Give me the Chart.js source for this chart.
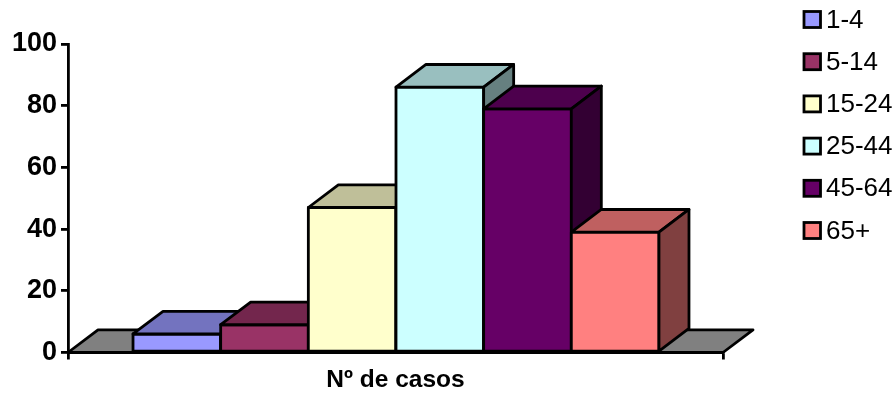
<!DOCTYPE html>
<html>
<head>
<meta charset="utf-8">
<style>
  html, body { margin: 0; padding: 0; background: #fff; }
  #wrap { width: 895px; height: 393px; }
</style>
<script src="https://cdn.jsdelivr.net/npm/chart.js@4"></script>
</head>
<body>
<div id="wrap"><canvas id="c" width="895" height="393"></canvas></div>
<script>
const categories = ['Nº de casos'];
const ageGroups = ['1-4', '5-14', '15-24', '25-44', '45-64', '65+'];
const cases = [6, 9, 47, 86, 79, 39];
const frontColors = ['#9999FF', '#993366', '#FFFFCC', '#CCFFFF', '#660066', '#FF8080'];
const topColors = ['#7373BF', '#73264D', '#BFBF99', '#99BFBF', '#4D004D', '#BF6060'];
const sideColors = ['#4D4D80', '#4D1A33', '#808066', '#668080', '#330033', '#804040'];
const yTicks = [0, 20, 40, 60, 80, 100];

const DEPTH_X = 30;
const DEPTH_Y = -22.7;
const LINE = 2.8;
const FONT = '"Liberation Sans", Arial, sans-serif';

function poly(ctx, pts, fill) {
  ctx.beginPath();
  pts.forEach((p, i) => (i ? ctx.lineTo(p[0], p[1]) : ctx.moveTo(p[0], p[1])));
  ctx.closePath();
  ctx.fillStyle = fill;
  ctx.fill();
  ctx.stroke();
}

// Extrudes the columns: gray floor first, then each column left to right.
const extrude = {
  id: 'extrude',
  beforeDatasetDraw() { return false; },
  afterDatasetsDraw(chart) {
    const { ctx, chartArea: a } = chart;
    ctx.save();
    ctx.strokeStyle = '#000';
    ctx.lineWidth = LINE;
    ctx.lineJoin = 'round';
    poly(ctx, [[a.left, a.bottom], [a.left + DEPTH_X, a.bottom + DEPTH_Y],
               [a.right + DEPTH_X, a.bottom + DEPTH_Y], [a.right, a.bottom]], '#808080');
    chart.data.datasets.forEach((ds, i) => {
      const bar = chart.getDatasetMeta(i).data[0];
      const hw = bar.width / 2;
      const l = bar.x - hw + 0.5, r = bar.x + hw + 0.5, t = bar.y, b = bar.base;
      ctx.fillStyle = frontColors[i];
      ctx.fillRect(l, t, r - l, b - t);
      ctx.strokeRect(l, t, r - l, b - t);
      poly(ctx, [[l, t], [l + DEPTH_X, t + DEPTH_Y], [r + DEPTH_X, t + DEPTH_Y], [r, t]], topColors[i]);
      poly(ctx, [[r, t], [r + DEPTH_X, t + DEPTH_Y], [r + DEPTH_X, b + DEPTH_Y], [r, b]], sideColors[i]);
    });
    ctx.restore();
  }
};

// Right-hand key: small square swatch followed by its age group.
const ageKey = {
  id: 'ageKey',
  afterDraw(chart) {
    const { ctx } = chart;
    ctx.save();
    ctx.font = '26px ' + FONT;
    ctx.textAlign = 'left';
    ctx.textBaseline = 'middle';
    ageGroups.forEach((name, i) => {
      const cy = 19.5 + i * 42.2;
      ctx.fillStyle = frontColors[i];
      ctx.fillRect(804, cy - 8, 16.5, 16);
      ctx.strokeStyle = '#000';
      ctx.lineWidth = LINE;
      ctx.strokeRect(804, cy - 8, 16.5, 16);
      ctx.fillStyle = '#000';
      ctx.fillText(name, 826, cy + 1);
    });
    ctx.restore();
  }
};

new Chart(document.getElementById('c'), {
  type: 'bar',
  data: {
    labels: categories,
    datasets: ageGroups.map((name, i) => ({
      label: name,
      data: [cases[i]],
      backgroundColor: frontColors[i],
      borderWidth: 0,
      categoryPercentage: 0.803,
      barPercentage: 1
    }))
  },
  options: {
    responsive: false,
    animation: false,
    layout: { padding: { top: 44, right: 172, bottom: 0, left: 0 } },
    plugins: { legend: { display: false }, title: { display: false }, tooltip: { enabled: false } },
    scales: {
      x: {
        afterFit(scale) { scale.height = 40.5; },
        border: { display: true, color: '#000', width: LINE },
        grid: { display: true, drawOnChartArea: false, color: '#000', lineWidth: LINE, tickLength: 7 },
        ticks: { color: '#000', padding: 6.5, font: { family: FONT, size: 24.5, weight: 'bold' }, maxRotation: 0 }
      },
      y: {
        min: 0,
        max: 100,
        afterFit(scale) { scale.width = 68; },
        afterBuildTicks(scale) { scale.ticks = yTicks.map(v => ({ value: v })); },
        border: { display: true, color: '#000', width: LINE },
        grid: { display: true, drawOnChartArea: false, color: '#000', lineWidth: LINE, tickLength: 7 },
        ticks: { color: '#000', padding: 4, font: { family: FONT, size: 27, weight: 'bold' } }
      }
    }
  },
  plugins: [extrude, ageKey]
});
</script>
</body>
</html>
